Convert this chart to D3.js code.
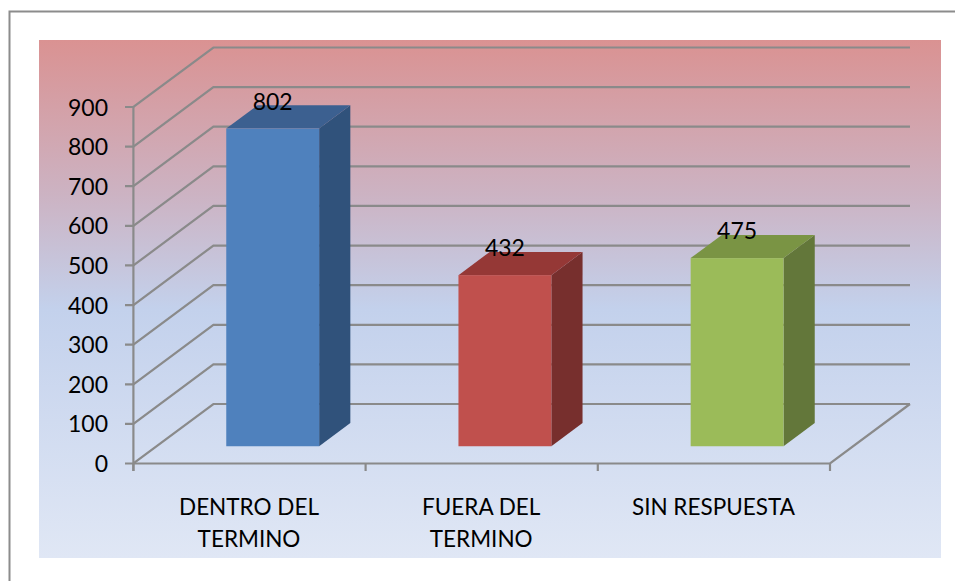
<!DOCTYPE html>
<html><head><meta charset="utf-8">
<script src="https://cdn.jsdelivr.net/npm/d3@7"></script>
<style>html,body{margin:0;padding:0;background:#fff;overflow:hidden}svg{display:block}text{font-family:Lato,"Open Sans",sans-serif;fill:#000}</style>
</head><body><div id="c"></div>
<script>
const categories = [["DENTRO DEL","TERMINO"],["FUERA DEL","TERMINO"],["SIN RESPUESTA"]];
const values = [802,432,475];
const yTicks = [0,100,200,300,400,500,600,700,800,900];
const faceColors = ["#4F81BD","#C0504D","#9BBB59"];
const topColors = ["#3C6090","#953836","#7A9444"];
const sideColors = ["#30527B","#772F2D","#63773A"];

const W=955,H=581,FS=23;
const svg=d3.select("#c").append("svg").attr("width",W).attr("height",H);
const defs=svg.append("defs");
const g=defs.append("linearGradient").attr("id","bg").attr("x1",0).attr("y1",0).attr("x2",0).attr("y2",1);
[[0,"#DA9292"],[0.3,"#CCB3C3"],[0.52,"#C3D1EC"],[1,"#E0E7F5"]].forEach(s=>g.append("stop").attr("offset",s[0]).attr("stop-color",s[1]));

svg.append("rect").attr("x",39).attr("y",40).attr("width",902).attr("height",518).attr("fill","url(#bg)");
svg.append("path").attr("d","M9.5,581V11.5H955").attr("fill","none").attr("stroke","#8c8c8c").attr("stroke-width",2);

const X_L=133.4,X_R=830;
const y=d3.scaleLinear().domain([0,900]).range([463.5,107]);
const x=d3.scaleBand().domain(d3.range(values.length)).range([X_L,X_R]).paddingInner(0.6).paddingOuter(0.3);
// depth: 0 = front plane, 1 = back wall
const zx=d3.scaleLinear().domain([0,1]).range([0,80]);
const zy=d3.scaleLinear().domain([0,1]).range([0,-59.5]);
const px=(a,z)=>a+zx(z), py=(v,z)=>y(v)+zy(z);
const zF=0.29,zB=0.68;
const grid="#8a8a8a";

const gr=svg.append("g").attr("fill","none").attr("stroke",grid).attr("stroke-width",2.2);
yTicks.forEach(t=>{
  gr.append("path").attr("d",`M125,${y(t)}H${X_L}L${px(X_L,1)},${py(t,1)}H${px(X_R,1)}`);
});
gr.append("path").attr("d",`M${X_L},${y(900)}V471`);
gr.append("path").attr("d",`M${X_L},${y(0)}H${X_R}L${px(X_R,1)},${py(0,1)}`);
x.domain().concat([values.length]).forEach(i=>{
  const a=i<values.length?x(i)-x.step()*0.3:X_R;
  gr.append("path").attr("d",`M${a},${y(0)}V471`);
});

values.forEach((v,i)=>{
  const a=x(i),b=a+x.bandwidth();
  const X0=px(a,zF),X1=px(b,zF),X2=px(b,zB),X3=px(a,zB);
  const base=py(0,zF),top=base-(y(0)-y(v));
  const dy=zy(zB)-zy(zF);
  svg.append("path").attr("d",`M${X1},${top}L${X2},${top+dy}V${base+dy}L${X1},${base}Z`).attr("fill",sideColors[i]);
  svg.append("path").attr("d",`M${X0},${top}L${X3},${top+dy}H${X2}L${X1},${top}Z`).attr("fill",topColors[i]);
  svg.append("rect").attr("x",X0).attr("y",top).attr("width",X1-X0).attr("height",base-top).attr("fill",faceColors[i]);
  svg.append("text").attr("x",(X0+X1)/2).attr("y",top-19).attr("text-anchor","middle").attr("font-size",FS).text(v);
});

svg.append("g").selectAll("text").data(yTicks).join("text")
  .attr("x",108).attr("y",d=>y(d)+8.5).attr("text-anchor","end").attr("font-size",FS).text(d=>d);

categories.forEach((lines,i)=>{
  const cx=x(i)+x.bandwidth()/2;
  lines.forEach((l,j)=>svg.append("text").attr("x",cx-0.5).attr("y",515+j*32).attr("text-anchor","middle").attr("font-size",22.5).text(l));
});
</script></body></html>
